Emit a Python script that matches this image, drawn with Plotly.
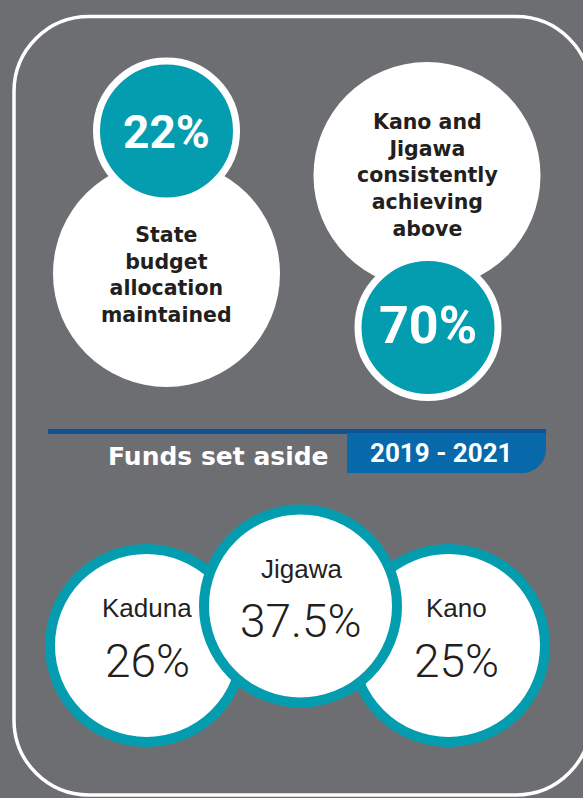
import plotly.graph_objects as go

# ---- data ----
stat_values = [22, 70]
stat_labels = ["State<br>budget<br>allocation<br>maintained",
               "Kano and<br>Jigawa<br>consistently<br>achieving<br>above"]
section_title = "Funds set aside"
period_label = "2019 - 2021"
states = ["Kaduna", "Jigawa", "Kano"]
fund_shares = [26, 37.5, 25]

# ---- style / layout ----
W, H = 583, 798
BG = "#6d6e71"
TEAL = "#049db0"
WHITE = "#ffffff"
DARK = "#231f20"
BLUE_LINE = "#0b5596"
BLUE_BOX = "#0768aa"
K = 0.5523

fig = go.Figure()
fig.add_trace(go.Scatter(x=[0, W], y=[0, H], mode="markers",
                         marker=dict(opacity=0), hoverinfo="skip", showlegend=False))

shapes = []

# rounded border
x0, y0, x1, y1, r = 14, 16.5, 591, 795, 75
kr = K * r
border = (f"M {x0+r},{y0} L {x1-r},{y0} C {x1-r+kr},{y0} {x1},{y0+r-kr} {x1},{y0+r} "
          f"L {x1},{y1-r} C {x1},{y1-r+kr} {x1-r+kr},{y1} {x1-r},{y1} "
          f"L {x0+r},{y1} C {x0+r-kr},{y1} {x0},{y1-r+kr} {x0},{y1-r} "
          f"L {x0},{y0+r} C {x0},{y0+r-kr} {x0+r-kr},{y0} {x0+r},{y0} Z")
shapes.append(dict(type="path", path=border, line=dict(color=WHITE, width=3.5),
                   fillcolor="rgba(0,0,0,0)", layer="below"))


def circle(cx, cy, rad, fill, lc=None, lw=0):
    return dict(type="circle", x0=cx - rad, x1=cx + rad, y0=cy - rad, y1=cy + rad,
                fillcolor=fill, line=dict(color=lc or fill, width=lw))

# top stats: big white circle + teal badge
big_centers = [(166.5, 273.5), (427, 175.5)]
badge_centers = [(166.5, 131), (428, 327.5)]
for (bx, by), (tx, ty) in zip(big_centers, badge_centers):
    shapes.append(circle(bx, by, 113.5, WHITE))
    shapes.append(circle(tx, ty, 70, TEAL, WHITE, 7))

# section header
shapes.append(dict(type="rect", x0=48, x1=546, y0=429, y1=434,
                   fillcolor=BLUE_LINE, line=dict(width=0)))
bx0, bx1, by0, by1, br = 347, 546, 433, 473, 24
box = (f"M {bx0},{by0} L {bx1},{by0} L {bx1},{by1-br} "
       f"C {bx1},{by1-br+K*br} {bx1-br+K*br},{by1} {bx1-br},{by1} L {bx0},{by1} Z")
shapes.append(dict(type="path", path=box, fillcolor=BLUE_BOX, line=dict(width=0)))

# state circles (middle one on top)
state_centers = [(146.5, 645.5), (300.5, 606), (448.5, 645.5)]
for i in [0, 2, 1]:
    cx, cy = state_centers[i]
    shapes.append(circle(cx, cy, 96.5, WHITE, TEAL, 10))

annotations = []
# badge numbers
badge_text_pos = [(166.5, 131.5), (428, 325)]
badge_sizes = [46, 52]
for v, (x, y), s in zip(stat_values, badge_text_pos, badge_sizes):
    annotations.append(dict(x=x, y=y, text=f"{v}%", showarrow=False,
                            xanchor="center", yanchor="middle",
                            font=dict(family="Roboto", size=s, color=WHITE, weight="bold")))
# stat descriptions
desc_pos = [(166, 274.5), (427, 175)]
for t, (x, y) in zip(stat_labels, desc_pos):
    annotations.append(dict(x=x, y=y, text=t, showarrow=False, align="center",
                            xanchor="center", yanchor="middle",
                            font=dict(family="DejaVu Sans", size=20.5, color=DARK, weight="bold")))

annotations.append(dict(x=218, y=456, text=section_title, showarrow=False,
                        xanchor="center", yanchor="middle",
                        font=dict(family="DejaVu Sans", size=25, color=WHITE, weight="bold")))
annotations.append(dict(x=441, y=453, text=period_label, showarrow=False,
                        xanchor="center", yanchor="middle",
                        font=dict(family="Roboto", size=26, color=WHITE, weight="bold")))

name_y = [608, 568.5, 608]
val_y = [661, 620.5, 661]
text_x = [147, 301, 456.5]
for s, v, x, ny, vy in zip(states, fund_shares, text_x, name_y, val_y):
    annotations.append(dict(x=x, y=ny, text=s, showarrow=False,
                            xanchor="center", yanchor="middle",
                            font=dict(family="Liberation Sans", size=26, color=DARK)))
    vs = f"{v:g}%"
    annotations.append(dict(x=x, y=vy, text=vs, showarrow=False,
                            xanchor="center", yanchor="middle",
                            font=dict(family="Roboto", size=46, color=DARK, weight=300)))

fig.update_layout(
    width=W, height=H, autosize=False,
    margin=dict(l=0, r=0, t=0, b=0, pad=0),
    paper_bgcolor=BG, plot_bgcolor=BG,
    xaxis=dict(range=[0, W], visible=False, fixedrange=True),
    yaxis=dict(range=[H, 0], visible=False, fixedrange=True),
    shapes=shapes, annotations=annotations, showlegend=False,
)

fig.write_html("out.html", config={"displayModeBar": False},
               post_script=("document.body.style.margin='0';"
                            "document.body.style.background='%s';"
                            "document.body.style.overflow='hidden';" % BG))
